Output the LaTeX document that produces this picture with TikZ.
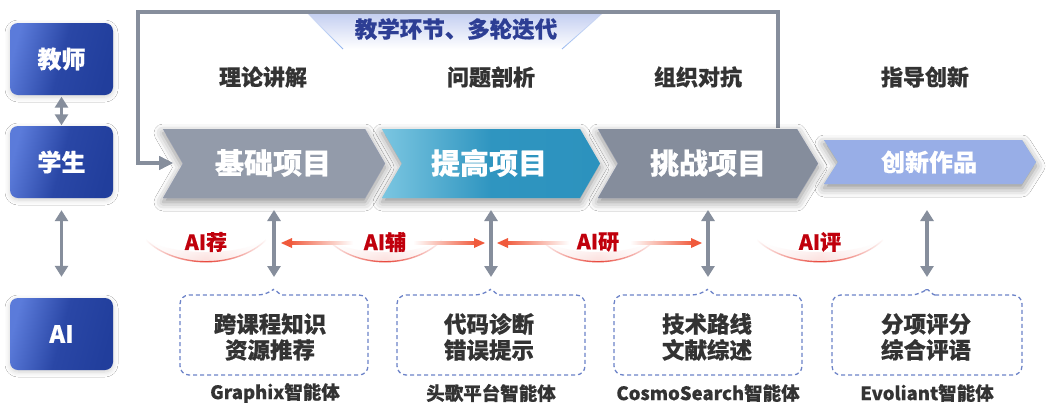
\documentclass[tikz,border=0pt]{standalone}
\usepackage{fontspec}
\setmainfont{Noto Sans CJK SC}[BoldFeatures={FakeBold=0.4}]
\usetikzlibrary{arrows.meta,fadings,shadows.blur}
\definecolor{roleL}{HTML}{5B7BDA}
\definecolor{roleM}{HTML}{2A47A6}
\definecolor{roleR}{HTML}{213E9C}
\definecolor{grayArrow}{HTML}{868E9C}
\definecolor{chevA}{HTML}{939BAA}
\definecolor{chevBL}{HTML}{7BC6E1}
\definecolor{chevBM}{HTML}{2F95C0}
\definecolor{chevBR}{HTML}{2C92BE}
\definecolor{chevC}{HTML}{858D9C}
\definecolor{chevD}{HTML}{98AEE7}
\definecolor{darkTxt}{HTML}{333333}
\definecolor{bannerTxt}{HTML}{2D3E94}
\definecolor{bannerTop}{HTML}{C3CEF1}
\definecolor{bannerEdge}{HTML}{8FB2EE}
\definecolor{redTxt}{HTML}{C0000C}
\definecolor{redLine}{HTML}{F05A3C}
\definecolor{arcRed}{HTML}{E8473B}
\definecolor{arcPink}{HTML}{FAD3D0}
\definecolor{dashBlue}{HTML}{6D83C8}
\definecolor{glow}{HTML}{9AA3CC}
\definecolor{glowB}{HTML}{8CC3D3}
\definecolor{glowT}{HTML}{9CBBC2}
\tikzfading[name=fadeSides, left color=transparent!100, right color=transparent!100, middle color=transparent!0]
\tikzset{
  rolebox/.style={rounded corners=8pt, minimum width=103pt, minimum height=72pt, inner sep=0pt,
    text=white, font=\bfseries\fontsize{24}{24}\selectfont,
    left color=roleL, right color=roleR, middle color=roleM, shading angle=75,
    blur shadow={shadow xshift=0pt, shadow yshift=-2pt, shadow blur radius=5pt, shadow opacity=18}},
  garrow/.style={draw=grayArrow, line width=3.6pt,
    {Triangle[width=13pt,length=11pt]}-{Triangle[width=13pt,length=11pt]}},
  loopline/.style={draw=grayArrow, line width=3.6pt, -{Triangle[width=13pt,length=14pt]}},
  glowpath/.style={fill=#1, blur shadow={shadow xshift=0pt, shadow yshift=-4pt, shadow blur radius=9pt,
    shadow opacity=45, fill=#1}},
  chevtxt/.style={text=white, font=\bfseries\fontsize{29}{29}\selectfont, inner sep=0pt},
  phase/.style={text=darkTxt, font=\bfseries\fontsize{22}{22}\selectfont, inner sep=0pt},
  ailbl/.style={text=redTxt, font=\bfseries\fontsize{21}{21}\selectfont, inner sep=0pt},
  boxtxt/.style={text=darkTxt, font=\bfseries\fontsize{22.5}{26}\selectfont, align=center, inner sep=0pt},
  agent/.style={text=darkTxt, font=\bfseries\fontsize{18.5}{18.5}\selectfont, inner sep=0pt},
  dbox/.style={draw=dashBlue, line width=1.3pt, dash pattern=on 4pt off 3pt},
}
\begin{document}
\begin{tikzpicture}[x=1pt,y=-1pt]
\useasboundingbox (0,0) rectangle (1051,410);
\fill[white] (0,0) rectangle (1051,410);

% ---- role boxes
\node[rolebox] (teacher) at (61.5,59) {教师};
\node[rolebox] (student) at (61.5,162) {学生};
\node[rolebox] (ai) at (61.5,334) {AI};
\draw[garrow] ([yshift=-1.5pt]teacher.south) -- ([yshift=0.5pt]student.north);
\draw[garrow] ([yshift=-12pt]student.south) -- ([yshift=21pt]ai.north);

% ---- banner
\shade[top color=bannerTop, bottom color=white] (307,13) -- (603,13) -- (562,49) -- (343,49) -- cycle;
\draw[bannerEdge, line width=0.8pt, path fading=north] (307,13) -- (343,49);
\draw[bannerEdge, line width=0.8pt, path fading=north] (603,13) -- (562,49);
\node[text=bannerTxt, font=\bfseries\fontsize{22.5}{22.5}\selectfont, inner sep=0pt] (banner) at (456,29) {教学环节、多轮迭代};

% ---- loop line
\coordinate (loopA) at (778,128);
\coordinate (loopTL) at (138,12);
\coordinate (loopEnd) at (173,163);
\draw[loopline] (loopA) |- (loopTL) |- (loopEnd);

% ---- phase labels
\node[phase] (p1) at (263,77) {理论讲解};
\node[phase] (p2) at (491,77) {问题剖析};
\node[phase] (p3) at (698,77) {组织对抗};
\node[phase] (p4) at (925,77) {指导创新};

% ---- chevron glows (drawn first, then covered by chevrons)
\path[glowpath=glowT] (824,140) -- (1022,140) -- (1036,162) -- (1022,184) -- (824,184) -- (838,162) -- cycle;
\path[glowpath=glow] (598,129) -- (797,129) -- (818,163.5) -- (797,198) -- (598,198) -- (618,163.5) -- cycle;
\path[glowpath=glowB] (382,129) -- (580,129) -- (600,163.5) -- (580,198) -- (382,198) -- (402,163.5) -- cycle;
\path[glowpath=glow] (163,129) -- (365,129) -- (385,163.5) -- (365,198) -- (163,198) -- (183,163.5) -- cycle;
% ---- chevrons
\fill[chevD] (824,140) -- (1022,140) -- (1036,162) -- (1022,184) -- (824,184) -- (838,162) -- cycle;
\fill[chevC] (598,129) -- (797,129) -- (818,163.5) -- (797,198) -- (598,198) -- (618,163.5) -- cycle;
\shade[left color=chevBL, right color=chevBR, middle color=chevBM]
  (382,129) -- (580,129) -- (600,163.5) -- (580,198) -- (382,198) -- (402,163.5) -- cycle;
\fill[chevA] (163,129) -- (365,129) -- (385,163.5) -- (365,198) -- (163,198) -- (183,163.5) -- cycle;
\node[chevtxt] (c1) at (273,163) {基础项目};
\node[chevtxt] (c2) at (489,163) {提高项目};
\node[chevtxt] (c3) at (708,163) {挑战项目};
\node[chevtxt, font=\bfseries\fontsize{24}{24}\selectfont] (c4) at (929,162) {创新作品};
% redraw loop arrow on top of chevron glow
\draw[loopline] (138,163) -- (loopEnd);

% ---- red arcs and AI labels
\foreach \lx/\w in {206/60, 385/57, 598/57, 820/63}{
  \shade[top color=white, bottom color=arcPink, path fading=fadeSides]
    (\lx-\w,240) .. controls (\lx-\w/2,269) and (\lx+\w/2,269) .. (\lx+\w,240)
    .. controls (\lx+\w/2,256) and (\lx-\w/2,256) .. cycle;
  \draw[arcRed, line width=1.4pt, path fading=fadeSides]
    (\lx-\w,240) .. controls (\lx-\w/2,269) and (\lx+\w/2,269) .. (\lx+\w,240);
}

% ---- red arrows (AI辅, AI研)
\foreach \ax/\bx/\n in {281/485/a, 497/702/b}{
  \coordinate (r\n L) at (\ax,243);
  \coordinate (r\n R) at (\bx,243);
  \shade[left color=redLine, right color=white] ([xshift=8pt,yshift=1.3pt]r\n L) rectangle ([xshift=72pt,yshift=-1.3pt]r\n L);
  \shade[left color=white, right color=redLine] ([xshift=-72pt,yshift=1.3pt]r\n R) rectangle ([xshift=-8pt,yshift=-1.3pt]r\n R);
  \fill[redLine] (r\n L) -- ++(11,-5) -- ++(0,10) -- cycle;
  \fill[redLine] (r\n R) -- ++(-11,-5) -- ++(0,10) -- cycle;
}

\node[ailbl] (l1) at (206,242) {AI荐};
\node[ailbl] (l2) at (385,242) {AI辅};
\node[ailbl] (l3) at (598,242) {AI研};
\node[ailbl] (l4) at (820,242) {AI评};

% ---- dashed boxes
\foreach \cx/\hw/\n in {274/94/1, 491/94/2, 708/94/3, 927/95/4}{
  \draw[dbox, rounded corners=9pt] (\cx+7,295) -- (\cx+\hw,295) -- (\cx+\hw,375) -- (\cx-\hw,375) -- (\cx-\hw,295)
     -- (\cx-7,295) [rounded corners=1pt] -- (\cx,289) -- cycle;
  \coordinate (top\n) at (\cx,210);
  \coordinate (bot\n) at (\cx,277);
  \draw[garrow] (top\n) -- (bot\n);
}
\node[boxtxt] (t1) at (270,337) {跨课程知识\\资源推荐};
\node[boxtxt] (t2) at (489,337) {代码诊断\\错误提示};
\node[boxtxt] (t3) at (707,337) {技术路线\\文献综述};
\node[boxtxt] (t4) at (926,337) {分项评分\\综合评语};

\node[agent] (g1) at (275,393) {Graphix智能体};
\node[agent] (g2) at (491,393) {头歌平台智能体};
\node[agent] (g3) at (708,393) {CosmoSearch智能体};
\node[agent] (g4) at (927,393) {Evoliant智能体};
\end{tikzpicture}
\end{document}
